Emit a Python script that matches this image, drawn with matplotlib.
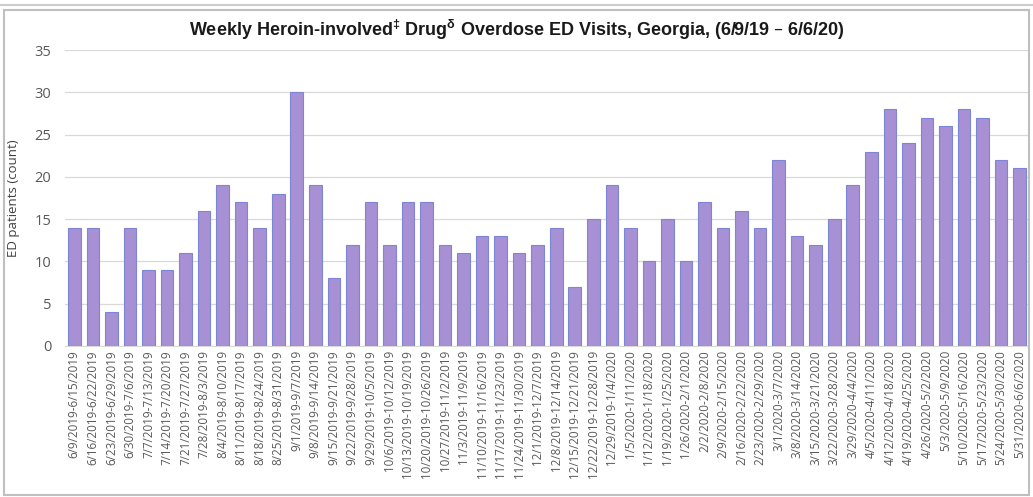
import matplotlib
matplotlib.use("Agg")
import matplotlib.pyplot as plt
from matplotlib.patches import Rectangle

weeks = ["6/9/2019-6/15/2019", "6/16/2019-6/22/2019", "6/23/2019-6/29/2019", "6/30/2019-7/6/2019",
         "7/7/2019-7/13/2019", "7/14/2019-7/20/2019", "7/21/2019-7/27/2019", "7/28/2019-8/3/2019",
         "8/4/2019-8/10/2019", "8/11/2019-8/17/2019", "8/18/2019-8/24/2019", "8/25/2019-8/31/2019",
         "9/1/2019-9/7/2019", "9/8/2019-9/14/2019", "9/15/2019-9/21/2019", "9/22/2019-9/28/2019",
         "9/29/2019-10/5/2019", "10/6/2019-10/12/2019", "10/13/2019-10/19/2019", "10/20/2019-10/26/2019",
         "10/27/2019-11/2/2019", "11/3/2019-11/9/2019", "11/10/2019-11/16/2019", "11/17/2019-11/23/2019",
         "11/24/2019-11/30/2019", "12/1/2019-12/7/2019", "12/8/2019-12/14/2019", "12/15/2019-12/21/2019",
         "12/22/2019-12/28/2019", "12/29/2019-1/4/2020", "1/5/2020-1/11/2020", "1/12/2020-1/18/2020",
         "1/19/2020-1/25/2020", "1/26/2020-2/1/2020", "2/2/2020-2/8/2020", "2/9/2020-2/15/2020",
         "2/16/2020-2/22/2020", "2/23/2020-2/29/2020", "3/1/2020-3/7/2020", "3/8/2020-3/14/2020",
         "3/15/2020-3/21/2020", "3/22/2020-3/28/2020", "3/29/2020-4/4/2020", "4/5/2020-4/11/2020",
         "4/12/2020-4/18/2020", "4/19/2020-4/25/2020", "4/26/2020-5/2/2020", "5/3/2020-5/9/2020",
         "5/10/2020-5/16/2020", "5/17/2020-5/23/2020", "5/24/2020-5/30/2020", "5/31/2020-6/6/2020"]

visits = [14, 14, 4, 14, 9, 9, 11, 16, 19, 17, 14, 18, 30, 19, 8, 12, 17, 12, 17, 17,
          12, 11, 13, 13, 11, 12, 14, 7, 15, 19, 14, 10, 15, 10, 17, 14, 16, 14, 22, 13,
          12, 15, 19, 23, 28, 24, 27, 26, 28, 27, 22, 21]

yticks = [0, 5, 10, 15, 20, 25, 30, 35]

plt.rcParams["mathtext.default"] = "regular"
title = "Weekly Heroin-involved$^{\u2021}$ Drug$^{\u03b4}$ Overdose ED Visits, Georgia, (6/9/19 \u2013 6/6/20)"

fig = plt.figure(figsize=(10.33, 4.97), dpi=100)
ax = fig.add_axes([0.063, 0.304, 0.933, 0.595])

x = list(range(len(weeks)))
ax.bar(x, visits, width=0.68, color="#A890D4", edgecolor="#7D86D6", linewidth=0.8, zorder=3)

ax.set_xlim(-0.5, len(weeks) - 0.5)
ax.set_ylim(0, 35)
ax.set_yticks(yticks)
ax.yaxis.grid(True, color="#D9D9D9", linewidth=0.9, zorder=0)
ax.set_xticks(x)
ax.set_xticklabels(weeks, rotation=90, fontsize=8.4, color="#595959", family="Open Sans")
ax.tick_params(axis="y", labelsize=10.5, labelcolor="#595959", length=0, pad=10)
ax.tick_params(axis="x", length=0, pad=3)
for lab in ax.get_yticklabels():
    lab.set_family("Open Sans")
for s in ["top", "right", "left"]:
    ax.spines[s].set_visible(False)
ax.spines["bottom"].set_color("#D9D9D9")
ax.set_ylabel("ED patients (count)", fontsize=9.5, color="#404040", family="Open Sans")
ax.yaxis.set_label_coords(-0.047, 0.5)

fig.text(0.5, 0.94, title, ha="center", va="center", fontsize=13, fontweight="bold",
         family=["Liberation Sans Narrow", "Liberation Sans", "DejaVu Sans"], color="#1a1a1a")

fig.patches.append(Rectangle((0.004, 0.004), 0.992, 0.976, transform=fig.transFigure,
                             fill=False, edgecolor="#BFBFBF", linewidth=1.5))
fig.lines.append(plt.Line2D([0, 1], [0.99, 0.99], transform=fig.transFigure, color="#CCCCCC", linewidth=1.5))

fig.savefig("out.png", dpi=100)
